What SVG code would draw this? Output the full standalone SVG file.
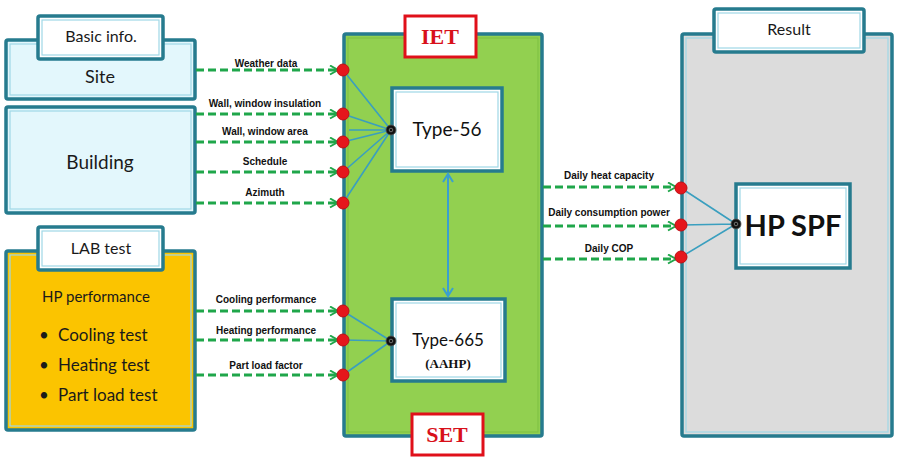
<svg xmlns="http://www.w3.org/2000/svg" width="899" height="467" viewBox="0 0 899 467">
<defs>
<style>
.box{stroke:#267b8e;stroke-width:3.5}
.inner{fill:none;stroke:#9fd8e6;stroke-width:1.2}
.lbl{font-family:Lato,"Open Sans","DejaVu Sans",sans-serif;fill:#1a1a1a;text-anchor:middle}
.al{font-family:"Liberation Sans",Arial,sans-serif;font-weight:bold;font-size:10px;fill:#111;text-anchor:middle}
.dash{stroke:#1fa64a;stroke-width:3;stroke-dasharray:8 4;fill:none}
.link{stroke:#3a9fbf;stroke-width:1.6;fill:none}
.port{fill:#e5161c;stroke:#c01015;stroke-width:1}
.tag{fill:#fff;stroke:#e0101a;stroke-width:3}
.tagt{font-family:"Liberation Serif","Times New Roman",serif;font-weight:bold;font-size:22px;fill:#d8101a;text-anchor:middle}
</style>
<marker id="ah" markerWidth="11" markerHeight="11" refX="9" refY="5.5" orient="auto" markerUnits="userSpaceOnUse">
<path d="M1,1 L9,5.5 L1,10" fill="none" stroke="#1fa64a" stroke-width="2"/>
</marker>
<marker id="bh" markerWidth="12" markerHeight="12" refX="10" refY="6" orient="auto" markerUnits="userSpaceOnUse">
<path d="M2,1 L10,6 L2,11" fill="none" stroke="#3a9fd0" stroke-width="2"/>
</marker>
</defs>

<!-- Left: Basic info -->
<g id="site">
<rect class="box" x="6" y="40" width="189" height="59" rx="2" fill="#e3f7fc"/>
<rect class="inner" x="10" y="44" width="181" height="51"/>
<text class="lbl" x="100" y="83" font-size="18">Site</text>
</g>
<g id="basic-info">
<rect class="box" x="38" y="16" width="125" height="43" rx="2" fill="#fff"/>
<rect class="inner" x="42" y="20" width="117" height="35"/>
<text class="lbl" x="101" y="42" font-size="16">Basic info.</text>
</g>
<g id="building">
<rect class="box" x="6" y="107" width="189" height="106" rx="2" fill="#e3f7fc"/>
<rect class="inner" x="10" y="111" width="181" height="98"/>
<text class="lbl" x="100" y="169" font-size="19">Building</text>
</g>

<!-- LAB test -->
<g id="lab">
<rect class="box" x="6" y="251" width="189" height="179" rx="2" fill="#fbc400"/>
<rect class="inner" x="10" y="255" width="181" height="171" stroke="#8ac8b0"/>
<text class="lbl" x="96" y="302" font-size="15">HP performance</text>
<g font-family="Lato,'Open Sans','DejaVu Sans',sans-serif" font-size="17" fill="#1a1a1a">
<text x="39" y="341">•</text><text x="58" y="341">Cooling test</text>
<text x="39" y="371">•</text><text x="58" y="371">Heating test</text>
<text x="39" y="401">•</text><text x="58" y="401">Part load test</text>
</g>
</g>
<g id="lab-label">
<rect class="box" x="38" y="227" width="125" height="43" rx="2" fill="#fff"/>
<rect class="inner" x="42" y="231" width="117" height="35"/>
<text class="lbl" x="101" y="254" font-size="16">LAB test</text>
</g>

<!-- IET/SET -->
<g id="iet-set">
<rect class="box" x="344" y="34" width="198" height="402" rx="2" fill="#92d050"/>
<rect x="348" y="38" width="190" height="394" fill="none" stroke="#7cc040" stroke-width="1"/>
</g>
<g id="iet-tag">
<rect class="tag" x="405" y="16" width="71" height="41"/>
<text class="tagt" x="440" y="44">IET</text>
</g>
<g id="set-tag">
<rect class="tag" x="412" y="414" width="71" height="41"/>
<text class="tagt" x="447" y="442">SET</text>
</g>
<g id="type56">
<rect class="box" x="392" y="88" width="110" height="83" fill="#fff"/>
<rect class="inner" x="396" y="92" width="102" height="75"/>
<text x="447" y="136" font-family="Lato,'DejaVu Sans',sans-serif" font-size="19" fill="#111" text-anchor="middle">Type-56</text>
</g>
<g id="type665">
<rect class="box" x="392" y="299" width="113" height="82" fill="#fff"/>
<rect class="inner" x="396" y="303" width="105" height="74"/>
<text x="448" y="346" font-family="Lato,'DejaVu Sans',sans-serif" font-size="17" fill="#111" text-anchor="middle">Type-665</text>
<text x="448" y="368" font-family="'Liberation Serif','Times New Roman',serif" font-weight="bold" font-size="13" fill="#111" text-anchor="middle">(AAHP)</text>
</g>

<!-- Result -->
<g id="result">
<rect class="box" x="682" y="34" width="210" height="402" rx="2" fill="#dcdcdc"/>
<rect class="inner" x="686" y="38" width="202" height="394"/>
</g>
<g id="result-label">
<rect class="box" x="714" y="9" width="150" height="43" rx="2" fill="#fff"/>
<rect class="inner" x="718" y="13" width="142" height="35"/>
<text class="lbl" x="789" y="35" font-size="16">Result</text>
</g>
<g id="hpspf">
<rect class="box" x="736" y="184" width="114" height="84" fill="#fff"/>
<rect class="inner" x="740" y="188" width="106" height="76"/>
<text x="793" y="236" font-family="Lato,'DejaVu Sans',sans-serif" font-weight="bold" font-size="29" fill="#111" text-anchor="middle">HP SPF</text>
</g>

<!-- Connectors -->
<g id="connectors">
<path class="dash" d="M196,70 H338" marker-end="url(#ah)"/>
<path class="dash" d="M196,114 H338" marker-end="url(#ah)"/>
<path class="dash" d="M196,142 H338" marker-end="url(#ah)"/>
<path class="dash" d="M196,172 H338" marker-end="url(#ah)"/>
<path class="dash" d="M196,203 H338" marker-end="url(#ah)"/>
<path class="dash" d="M196,311 H338" marker-end="url(#ah)"/>
<path class="dash" d="M196,340 H338" marker-end="url(#ah)"/>
<path class="dash" d="M196,375 H338" marker-end="url(#ah)"/>
<path class="dash" d="M543,187 H676" marker-end="url(#ah)"/>
<path class="dash" d="M543,226 H676" marker-end="url(#ah)"/>
<path class="dash" d="M543,259 H676" marker-end="url(#ah)"/>

<text class="al" x="266" y="67">Weather data</text>
<text class="al" x="265" y="107">Wall, window insulation</text>
<text class="al" x="265" y="135">Wall, window area</text>
<text class="al" x="265" y="165">Schedule</text>
<text class="al" x="265" y="196">Azimuth</text>
<text class="al" x="266" y="303">Cooling performance</text>
<text class="al" x="266" y="334">Heating performance</text>
<text class="al" x="266" y="369">Part load factor</text>
<text class="al" x="609" y="179">Daily heat capacity</text>
<text class="al" x="609" y="216">Daily consumption power</text>
<text class="al" x="609" y="252">Daily COP</text>

<path class="link" d="M343,70 L391,130 M343,114 L391,130 M343,142 L391,130 M343,172 L391,130 M343,203 L391,130 M349,130 L391,130"/>
<path class="link" d="M343,311 L391,341 M343,340 L391,341 M343,375 L391,341"/>
<path class="link" d="M681,188 L736,224 M681,225 L736,224 M681,257 L736,224"/>

<path d="M448,246 L448,174" stroke="#3a9fd0" stroke-width="2" marker-end="url(#bh)"/>
<path d="M448,240 L448,296" stroke="#3a9fd0" stroke-width="2" marker-end="url(#bh)"/>

<g>
<circle class="port" cx="343" cy="70" r="6"/>
<circle class="port" cx="343" cy="114" r="6"/>
<circle class="port" cx="343" cy="142" r="6"/>
<circle class="port" cx="343" cy="172" r="6"/>
<circle class="port" cx="343" cy="203" r="6"/>
<circle class="port" cx="343" cy="311" r="6"/>
<circle class="port" cx="343" cy="340" r="6"/>
<circle class="port" cx="343" cy="375" r="6"/>
<circle class="port" cx="681" cy="188" r="6"/>
<circle class="port" cx="681" cy="225" r="6"/>
<circle class="port" cx="681" cy="257" r="6"/>
</g>
<g fill="#111" stroke="#555" stroke-width="0.8">
<circle cx="391" cy="130" r="5"/>
<circle cx="391" cy="341" r="5"/>
<circle cx="736" cy="224" r="5"/>
</g>
<g fill="none" stroke="#888" stroke-width="0.8">
<circle cx="391" cy="130" r="1.8"/>
<circle cx="391" cy="341" r="1.8"/>
<circle cx="736" cy="224" r="1.8"/>
</g>
</g>
</svg>
